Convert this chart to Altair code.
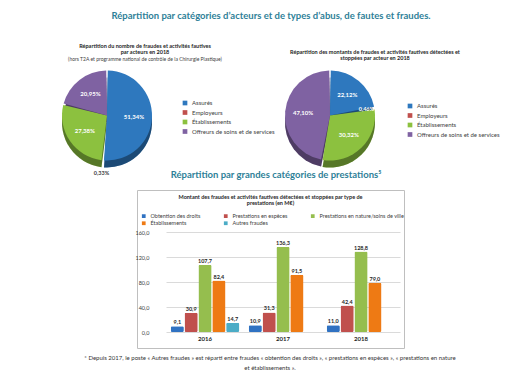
import altair as alt
import pandas as pd

# ---------------- data ----------------
acteurs = ["Assurés", "Employeurs", "Établissements", "Offreurs de soins et de services"]
nombre_pct = [51.34, 0.33, 27.38, 20.95]
nombre_lbl = ["51,34%", "0,33%", "27,38%", "20,95%"]
montant_pct = [22.12, 0.46, 30.32, 47.10]
montant_lbl = ["22,12%", "0,46%", "30,32%", "47,10%"]

annees = ["2016", "2017", "2018"]
prestations = ["Obtention des droits", "Prestations en espèces",
               "Prestations en nature/soins de ville", "Établissements", "Autres fraudes"]
obtention = [9.1, 10.9, 11.0]
especes = [30.9, 31.3, 42.4]
nature = [107.7, 136.3, 128.8]
etablissements = [82.4, 91.5, 79.0]
autres = [14.7, None, None]
y_ticks = [0, 40, 80, 120, 160]

main_title = "Répartition par catégories d’acteurs et de types d’abus, de fautes et fraudes."
pie1_title = ["Répartition du nombre de fraudes et activités fautives", "par acteurs en 2018"]
pie1_sub = "(hors T2A et programme national de contrôle de la Chirurgie Plastique)"
pie2_title = ["Répartition  des  montants de fraudes et activités fautives détectées et",
              "stoppées  par acteur en 2018"]
section_title = "Répartition par grandes catégories de prestations⁵"
bar_title = ["Montant des fraudes et activités fautives détectées et stoppées par type de",
             "prestations (en M€)"]
footnote = ["* Depuis 2017, le poste « Autres fraudes » est réparti entre  fraudes  « obtention des droits », "
            "« prestations en espèces », « prestations en nature",
            "et établissements »."]

# ---------------- styles ----------------
FONT = "Lato"
TEAL = "#2E7F98"
acteur_colors = ["#2E78BE", "#C0504D", "#8CC13F", "#7F62A2"]
bar_colors = ["#3072C2", "#C0504D", "#95BE4E", "#EE7A14", "#4BACC6"]
R = 45
PAD = 0.035
DEPTH = 7


def spacer(w, h):
    return alt.Chart(pd.DataFrame({"s": [0]})).mark_point(size=0, opacity=0).encode(
        x=alt.value(1), y=alt.value(1)).properties(width=w, height=h)


def text_block(lines, x, y, size, weight="normal", color="#262626", lh=None, align="center"):
    return alt.Chart(pd.DataFrame({"t": ["\n".join(lines)]})).mark_text(
        lineBreak="\n", fontSize=size, fontWeight=weight, color=color, font=FONT,
        baseline="top", align=align, lineHeight=lh if lh else size * 1.2
    ).encode(text="t:N", x=alt.value(x), y=alt.value(y))


def pie_chart(values, labels, title_lines, title_x, title_y, sub, legend_x, legend_y,
              small_radius, small_color, extra=None):
    df = pd.DataFrame({"acteur": acteurs, "pct": values, "lbl": labels,
                       "ord": list(range(len(acteurs)))})
    color = alt.Color("acteur:N", sort=acteurs,
                      scale=alt.Scale(domain=acteurs, range=acteur_colors),
                      legend=alt.Legend(title=None, orient="none", legendX=legend_x, legendY=legend_y,
                                        symbolType="square", symbolSize=22, labelFontSize=6,
                                        labelFont=FONT, labelColor="#404040", rowPadding=3.5,
                                        labelLimit=200, symbolStrokeWidth=0))
    base = alt.Chart(df).encode(theta=alt.Theta("pct:Q", stack=True),
                                order=alt.Order("ord:Q", sort="ascending"),
                                color=color)
    side = base.mark_arc(radius=R, padAngle=PAD, yOffset=DEPTH)
    shade = base.mark_arc(radius=R, padAngle=PAD, yOffset=DEPTH, opacity=0.38).encode(
        color=alt.value("black"))
    top = base.mark_arc(radius=R, padAngle=PAD)
    inner = base.mark_text(radius=R * 0.6, fontSize=6, fontWeight="bold", font=FONT).encode(
        text="lbl_in:N", color=alt.value("white")
    ).transform_calculate(lbl_in="datum.acteur == 'Employeurs' ? '' : datum.lbl")
    small = base.mark_text(radius=small_radius, fontSize=5.5, fontWeight="bold", font=FONT).encode(
        text="lbl_sm:N", color=alt.value(small_color)
    ).transform_calculate(lbl_sm="datum.acteur == 'Employeurs' ? datum.lbl : ''")
    layers = [side, shade, top, inner, small,
              text_block(title_lines, title_x, title_y, 5.5, "bold", lh=6.3)]
    if sub:
        layers.append(text_block([sub], title_x, title_y + 13, 5, "normal", color="#404040"))
    if extra is not None:
        layers.append(extra)
    return alt.layer(*layers).properties(width=120, height=147)


# ---------------- header ----------------
header = text_block([main_title], 271, 11, 9.5, "bold", color=TEAL).properties(width=527, height=42)

# ---------------- pies ----------------
section = text_block([section_title], 229, 128, 9.5, "bold", color=TEAL)
pie1 = pie_chart(nombre_pct, nombre_lbl, pie1_title, 98, 2, pie1_sub, 135, 58, R + 13, "#404040",
                 extra=section)
pie2 = pie_chart(montant_pct, montant_lbl, pie2_title, 105, 8, None, 137, 61, R * 0.82, "white")

row1 = alt.hconcat(spacer(47, 147), pie1, spacer(103, 147), pie2, spacer(137, 147),
                   spacing=0, bounds="flush").resolve_scale(color="independent", theta="independent")

# ---------------- bar chart ----------------
rows = []
for p, vals in zip(prestations, [obtention, especes, nature, etablissements, autres]):
    for a, v in zip(annees, vals):
        if v is not None:
            rows.append({"annee": a, "prestation": p, "montant": v})
bar_df = pd.DataFrame(rows)

xenc = alt.X("annee:N", sort=annees,
             scale=alt.Scale(range=[29, 263], paddingInner=0.12, paddingOuter=0.06),
             axis=alt.Axis(title=None, labelFontSize=6, labelFontWeight="bold", labelColor="#262626",
                           domain=False, ticks=False, labelPadding=2, offset=-15, labelAngle=0,
                           labelFont=FONT))
yenc = alt.Y("montant:Q", scale=alt.Scale(domain=[0, 160], range=[142, 42], nice=False),
             axis=alt.Axis(title=None, values=y_ticks,
                           labelExpr="replace(format(datum.value, '.1f'), '.', ',')",
                           labelFontSize=5.5, labelColor="#404040", domain=False, ticks=False,
                           grid=True, gridColor="#d0d0d0", gridWidth=0.8, offset=-15, labelPadding=3,
                           labelFont=FONT))
xoff = alt.XOffset("prestation:N", sort=prestations, scale=alt.Scale(paddingInner=0.05))
bcolor = alt.Color("prestation:N", sort=prestations,
                   scale=alt.Scale(domain=prestations, range=bar_colors),
                   legend=alt.Legend(title=None, orient="none", legendX=4, legendY=23, columns=3,
                                     direction="horizontal",
                                     symbolType="square", symbolSize=14, labelFontSize=5.5,
                                     labelFont=FONT, labelColor="#404040", columnPadding=22,
                                     rowPadding=0.5, labelLimit=200, symbolStrokeWidth=0))

bars = alt.Chart(bar_df).mark_bar(cornerRadius=1.5).encode(x=xenc, xOffset=xoff, y=yenc, color=bcolor)
bar_vals = alt.Chart(bar_df).mark_text(dy=-4, fontSize=5.5, fontWeight="bold", color="#262626",
                                       font=FONT).encode(
    x=xenc, xOffset=xoff, y=yenc, text="lbl:N"
).transform_calculate(lbl="replace(format(datum.montant, '.1f'), '.', ',')")
inner_title = text_block(bar_title, 133.5, 5, 5.5, "bold", lh=6.3)

bar = alt.layer(bars, bar_vals, inner_title).properties(
    width=267, height=158,
    view=alt.ViewBackground(stroke="#bfbfbf", strokeWidth=1, fill="white"),
)
row2 = alt.hconcat(spacer(137, 158), bar, spacer(123, 158), spacing=0,
                   bounds="flush").resolve_scale(color="independent")

# ---------------- footer ----------------
footer = text_block(footnote, 270, 6, 6, "normal", color="#333333", lh=10).properties(width=527, height=32)

chart = alt.vconcat(header, row1, row2, footer, spacing=0).resolve_scale(
    color="independent", theta="independent"
).properties(padding=0, background="white").configure_view(stroke=None)

chart.save("out.html", embed_options={"renderer": "svg", "actions": False})
